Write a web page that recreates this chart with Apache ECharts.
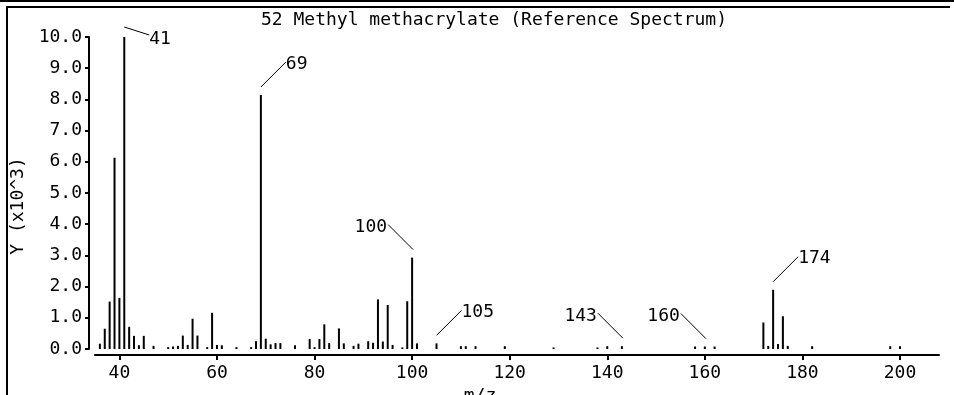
<!DOCTYPE html>
<html><head><meta charset="utf-8">
<script src="https://cdn.jsdelivr.net/npm/echarts@6/dist/echarts.min.js"></script>
<style>html,body{margin:0;padding:0;background:#fff}#c{width:954px;height:395px}</style>
</head><body><div id="c"></div>
<script>
// ---- data (intensities in units of 10^3) ----
const mzValues = [36,37,38,39,40,41,42,43,44,45,47,50,51,52,53,54,55,56,58,59,60,61,64,67,68,69,70,71,72,73,76,79,80,81,82,83,85,86,88,89,91,92,93,94,95,96,98,99,100,101,105,110,111,113,119,129,138,140,143,158,160,162,172,173,174,175,176,177,182,198,200];
const intensities = [0.17,0.65,1.52,6.13,1.64,10.0,0.71,0.42,0.12,0.42,0.10,0.06,0.08,0.10,0.43,0.13,0.97,0.43,0.06,1.16,0.13,0.12,0.06,0.06,0.25,8.14,0.33,0.15,0.19,0.19,0.12,0.32,0.06,0.32,0.79,0.19,0.66,0.18,0.10,0.17,0.25,0.20,1.59,0.24,1.41,0.13,0.05,1.53,2.93,0.18,0.18,0.09,0.09,0.09,0.09,0.05,0.05,0.09,0.09,0.08,0.08,0.08,0.85,0.10,1.90,0.16,1.05,0.10,0.09,0.09,0.09];
const labeledPeaks = [41, 69, 100, 105, 143, 160, 174];
const xTickValues = [40, 60, 80, 100, 120, 140, 160, 180, 200];
const titleText = '52 Methyl methacrylate (Reference Spectrum)';
const xAxisName = 'm/z';
const yAxisName = 'Y (x10^3)';

// ---- layout / style ----
const labelSide = {41: 'top', 69: 'right', 100: 'left', 105: 'right', 143: 'left', 160: 'left', 174: 'right'};
const FONT = '"DejaVu Sans Mono", "Liberation Mono", monospace';
const FS = 18;

const barData = mzValues.map((m, i) => [m, intensities[i]]);
const annData = labeledPeaks.map(m => [m, intensities[mzValues.indexOf(m)]]);

const chart = echarts.init(document.getElementById('c'), null, {renderer: 'canvas'});
chart.setOption({
  animation: false,
  backgroundColor: '#fff',
  title: {
    text: titleText, left: 261, top: 11, padding: 0,
    textStyle: {fontFamily: FONT, fontSize: FS, fontWeight: 'normal', color: '#000'}
  },
  grid: {left: 95, right: 15, top: 37, bottom: 46, containLabel: false, outerBoundsMode: 'none'},
  xAxis: {
    type: 'value', min: 35, max: 208, offset: 6,
    name: xAxisName, nameLocation: 'middle', nameGap: 25,
    nameTextStyle: {fontFamily: FONT, fontSize: FS, color: '#000', padding: [0, 74, 0, 0]},
    axisLine: {show: true, onZero: false, lineStyle: {color: '#000', width: 2}},
    axisTick: {show: true, customValues: xTickValues, length: 5, lineStyle: {color: '#000', width: 2}},
    axisLabel: {customValues: xTickValues, margin: 9, color: '#000', fontFamily: FONT, fontSize: FS},
    splitLine: {show: false}
  },
  yAxis: {
    type: 'value', min: 0, max: 10, interval: 1, offset: 6,
    name: yAxisName, nameLocation: 'middle', nameGap: 51, nameRotate: 90,
    nameTextStyle: {fontFamily: FONT, fontSize: FS, color: '#000', padding: [0, 26, 0, 0]},
    axisLine: {show: true, onZero: false, lineStyle: {color: '#000', width: 2}},
    axisTick: {show: true, length: 4, lineStyle: {color: '#000', width: 2}},
    axisLabel: {margin: 7, color: '#000', fontFamily: FONT, fontSize: FS, formatter: v => v.toFixed(1)},
    splitLine: {show: false}
  },
  graphic: [
    {type: 'line', shape: {x1: 0, y1: 1, x2: 954, y2: 1}, style: {stroke: '#000', lineWidth: 2}},
    {type: 'polyline', shape: {points: [[7, 395], [7, 7], [950, 7]]}, style: {stroke: '#000', lineWidth: 2, fill: null}}
  ],
  series: [
    {
      type: 'bar', data: barData, barWidth: 2, silent: true,
      itemStyle: {color: '#000'}
    },
    {
      type: 'custom', data: annData, silent: true, clip: false, z: 5,
      renderItem: function (params, api) {
        const m = api.value(0), v = api.value(1);
        const p = api.coord([m, v]);
        const side = labelSide[m];
        let x1, y1, x2, y2, tx, ty, align;
        if (side === 'top') {
          x1 = p[0]; y1 = p[1] - 10; x2 = p[0] + 25; y2 = p[1] - 2; tx = x2; ty = p[1] + 2; align = 'left';
        } else if (side === 'right') {
          x1 = p[0]; y1 = p[1] - 8; x2 = p[0] + 25; y2 = p[1] - 33; tx = x2; ty = y2 + 2; align = 'left';
        } else {
          x1 = p[0] + 1; y1 = p[1] - 8; x2 = p[0] - 24; y2 = p[1] - 33; tx = x2 - 1; ty = y2 + 3; align = 'right';
        }
        return {
          type: 'group',
          children: [
            {type: 'line', shape: {x1: x1, y1: y1, x2: x2, y2: y2}, style: {stroke: '#000', lineWidth: 1}},
            {type: 'text', style: {text: String(m), x: tx, y: ty, align: align, verticalAlign: 'middle',
              font: FS + 'px ' + FONT, fill: '#000'}}
          ]
        };
      }
    }
  ]
});
</script>
</body></html>
